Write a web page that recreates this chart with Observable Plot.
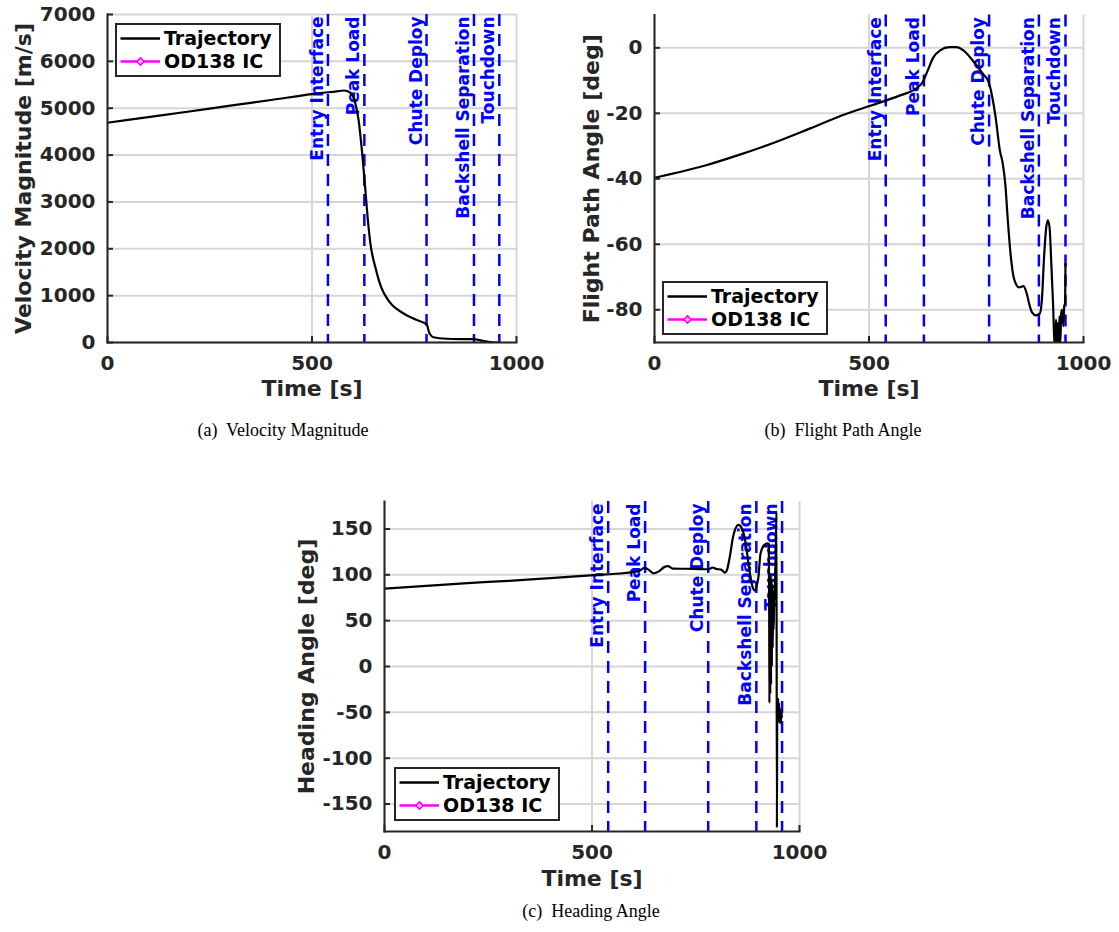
<!DOCTYPE html>
<html>
<head>
<meta charset="utf-8">
<script src="https://cdn.jsdelivr.net/npm/d3@7"></script>
<script src="https://cdn.jsdelivr.net/npm/@observablehq/plot@0.6"></script>
<style>
  html, body { margin: 0; padding: 0; background: #fff; }
  #root { position: relative; width: 1119px; height: 932px; background: #fff; overflow: hidden; }
  .panel { position: absolute; }
  .caption { position: absolute; font-family: "Liberation Serif", "Times New Roman", serif; font-size: 18px; color: #000; white-space: pre; transform: translate(-50%, -50%); }
</style>
</head>
<body>
<div id="root"></div>
<script>
// ---------- data ----------
const eventTimes = [539, 628, 780, 896, 958];
const eventLabels = ["Entry Interface", "Peak Load", "Chute Deploy", "Backshell Separation", "Touchdown"];
const legendLabels = ["Trajectory", "OD138 IC"];
const xTicks = [0, 500, 1000];
const velTicks = [0, 1000, 2000, 3000, 4000, 5000, 6000, 7000];
const fpaTicks = [-80, -60, -40, -20, 0];
const hdgTicks = [-150, -100, -50, 0, 50, 100, 150];

const velTime  = [0, 100, 200, 300, 400, 500, 560, 578, 594, 606, 614, 622, 630, 636, 643, 655, 669, 690, 723, 755, 775, 781, 785, 790, 797, 830, 870, 895, 910, 920, 935, 945, 958];
const velValue = [4690, 4810, 4930, 5055, 5175, 5300, 5360, 5378, 5330, 5100, 4740, 4100, 3310, 2670, 2100, 1600, 1180, 860, 625, 485, 415, 380, 250, 160, 113, 80, 72, 70, 50, 28, 10, 0, 0];

const fpaTime  = [0, 50, 114, 197, 280, 363, 446, 505, 571, 612, 625, 637, 650, 666, 687, 704, 720, 745, 766, 779, 795, 805, 812, 818, 823, 830, 838, 850, 860, 868, 874, 880, 889, 898, 903, 908, 913, 917, 921, 925, 929, 933, 936, 938, 940, 942, 944, 946, 948, 950, 953, 955, 957, 958];
const fpaValue = [-39.7, -38.2, -36.1, -32.7, -28.9, -24.6, -20.2, -17.6, -14.6, -12.2, -10.5, -6.9, -2.9, -0.8, 0.2, 0.2, -0.8, -4.4, -8.0, -10.5, -21.1, -31.3, -35.5, -42, -51.6, -63, -70.5, -73.2, -72.8, -75.2, -78.5, -80.8, -81.7, -81.2, -77, -64, -55, -52.7, -55, -66, -78, -92, -83, -92, -84, -92, -82, -90, -81, -80, -85, -79, -78, -66];

const hdgTime  = [0, 100, 200, 300, 400, 497, 579, 612, 627, 636, 648, 662, 675, 683, 695, 745, 782, 790, 799, 811, 820, 825, 832, 840, 853, 861, 871, 877, 887, 892, 901, 906, 915, 923, 926, 927, 927.5, 928.5, 929.5, 930.5, 931.5, 932.5, 933.5, 934.5, 935.5, 936.5, 937.5, 939, 941, 943, 944.5, 945.5, 946.5, 947.5, 948.5, 949.5, 950.5, 951.5, 952.5, 953.5, 954.5, 955.5, 956.5, 957.5];
const hdgValue = [84.9, 88, 91, 93.5, 96.5, 99.5, 102, 104, 107.6, 105.7, 101.7, 104, 108.7, 109.4, 106.8, 106.5, 106.1, 108, 106.5, 105.7, 102.5, 105, 119.6, 141.6, 154.4, 150.7, 132.5, 112.3, 86.7, 83, 97.7, 123, 132.5, 134.3, 134, 60, -40, 95, -30, 100, -20, 95, 0, 90, 20, 80, 40, 70, 90, 130, 168, -176, -40, -62, -35, -60, -40, -58, -45, -62, -48, -60, -50, -55];

// ---------- helpers ----------
const AX = "#262626";
const GRID = "#d6d6d6";
const FONT = "DejaVu Sans";
const events = eventTimes.map((t, i) => ({t, label: eventLabels[i]}));
const zip = (ts, vs) => ts.map((t, i) => ({t, v: vs[i]}));

function addLegend(svg, x0, y0) {
  const w = 164, h = 52;
  const g = d3.select(svg).append("g").attr("class", "legend").attr("text-anchor", "start");
  g.append("rect").attr("x", x0).attr("y", y0).attr("width", w).attr("height", h)
    .attr("fill", "#fff").attr("stroke", AX).attr("stroke-width", 2);
  const rows = [y0 + 14.5, y0 + 37.5];
  const colors = ["#000", "#ff00ff"];
  rows.forEach((ry, i) => {
    g.append("line").attr("x1", x0 + 4.5).attr("x2", x0 + 44).attr("y1", ry).attr("y2", ry)
      .attr("stroke", colors[i]).attr("stroke-width", 2.4);
    if (i === 1) {
      const cx = x0 + 24.5, s = 3.6;
      g.append("path").attr("d", `M${cx},${ry - s}L${cx + s},${ry}L${cx},${ry + s}L${cx - s},${ry}Z`)
        .attr("fill", "#ffc8ff").attr("stroke", colors[i]).attr("stroke-width", 1.6);
    }
    g.append("text").attr("x", x0 + 48).attr("y", ry).attr("dy", "0.36em")
      .attr("text-anchor", "start")
      .attr("font-family", FONT).attr("font-weight", "bold").attr("font-size", 19)
      .attr("fill", "#000").text(legendLabels[i]);
  });
}

function makePanel(cfg) {
  const svg = Plot.plot({
    width: cfg.width, height: cfg.height,
    marginLeft: cfg.ml, marginRight: cfg.mr, marginTop: cfg.mt, marginBottom: cfg.mb,
    style: {fontFamily: FONT, fontWeight: "bold", fontSize: "20px", color: AX, background: "transparent", overflow: "visible"},
    x: {domain: [0, 1000]},
    y: {domain: cfg.yDomain},
    marks: [
      Plot.gridX(xTicks, {stroke: GRID, strokeOpacity: 1, strokeWidth: 2}),
      Plot.gridY(cfg.yTicks, {stroke: GRID, strokeOpacity: 1, strokeWidth: 2}),
      Plot.ruleX(events, {x: "t", stroke: "#0000ff", strokeWidth: 2.5, strokeDasharray: "12,8"}),
      Plot.text(events, {x: "t", text: "label", frameAnchor: "top", rotate: -90, textAnchor: "end", lineAnchor: "bottom",
        dx: -5, dy: 2, fill: "#0000ff", fontSize: 17, fontWeight: "bold", fontFamily: FONT}),
      Plot.line(zip(cfg.t, cfg.v), {x: "t", y: "v", stroke: "#000", strokeWidth: 2.2, curve: "monotone-x", clip: true}),
      Plot.frame({anchor: "left", stroke: AX, strokeWidth: 2}),
      Plot.frame({anchor: "bottom", stroke: AX, strokeWidth: 2}),
      Plot.axisX(xTicks, {tickSize: -6, tickPadding: 19, tickFormat: d => String(d), label: null, stroke: AX, strokeWidth: 2, fill: AX, fontSize: 20, fontWeight: "bold"}),
      Plot.axisY(cfg.yTicks, {tickSize: -6, tickPadding: 18, tickFormat: d => String(d), label: null, stroke: AX, strokeWidth: 2, fill: AX, fontSize: 20, fontWeight: "bold"}),
      Plot.text([cfg.yLabel], {text: d => d, frameAnchor: "left", rotate: -90, dx: cfg.ylx, textAnchor: "middle", fill: AX, fontSize: 22, fontWeight: "bold", lineAnchor: "middle"}),
      Plot.text(["Time [s]"], {text: d => d, frameAnchor: "bottom", dy: cfg.xly, textAnchor: "middle", fill: AX, fontSize: 22, fontWeight: "bold", lineAnchor: "middle"})
    ]
  });
  addLegend(svg, cfg.legX, cfg.legY);
  const div = document.createElement("div");
  div.className = "panel";
  div.style.left = cfg.left + "px";
  div.style.top = cfg.top + "px";
  div.appendChild(svg);
  document.getElementById("root").appendChild(div);
}

function caption(text, x, y) {
  const d = document.createElement("div");
  d.className = "caption";
  d.style.left = x + "px";
  d.style.top = y + "px";
  d.textContent = text;
  document.getElementById("root").appendChild(d);
}

makePanel({left: 0, top: 0, width: 560, height: 400, ml: 107, mr: 44, mt: 14, mb: 58,
  yDomain: [0, 7000], yTicks: velTicks, t: velTime, v: velValue,
  yLabel: "Velocity Magnitude [m/s]", ylx: -84, xly: 46, legX: 116, legY: 24});

makePanel({left: 560, top: 0, width: 559, height: 400, ml: 94, mr: 36, mt: 14.6, mb: 58,
  yDomain: [-90, 10], yTicks: fpaTicks, t: fpaTime, v: fpaValue,
  yLabel: "Flight Path Angle [deg]", ylx: -63, xly: 46, legX: 103, legY: 282});

makePanel({left: 280, top: 470, width: 560, height: 420, ml: 104, mr: 41, mt: 31, mb: 59,
  yDomain: [-180, 180], yTicks: hdgTicks, t: hdgTime, v: hdgValue,
  yLabel: "Heading Angle [deg]", ylx: -78, xly: 47, legX: 115, legY: 298});

caption("(a)  Velocity Magnitude", 283, 430);
caption("(b)  Flight Path Angle", 843, 430);
caption("(c)  Heading Angle", 591, 911);
</script>
</body>
</html>
